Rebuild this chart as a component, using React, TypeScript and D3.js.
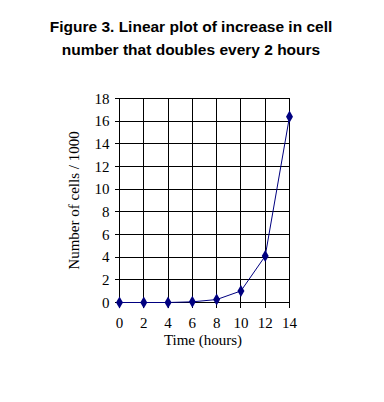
import * as d3 from 'd3';

// data
const hours = [0, 2, 4, 6, 8, 10, 12, 14];
const cellsPer1000 = [0, 0, 0, 0.06, 0.26, 1.02, 4.1, 16.4];
const yTicks = [0, 2, 4, 6, 8, 10, 12, 14, 16, 18];
const titleLines = ['Figure 3. Linear plot of increase in cell', 'number that doubles every 2 hours'];

const W = 384;
const H = 402;
const NAVY = '#000080';

export default function App() {
  const x = d3.scaleLinear().domain([0, 14]).range([119.5, 289.5]);
  const y = d3.scaleLinear().domain([0, 18]).range([302.5, 98.5]);

  const line = d3
    .line<number>()
    .x((_, i) => x(hours[i]))
    .y(d => y(d));

  const diamond = d3.symbol().type(d3.symbolDiamond).size(42)();

  return (
    <svg
      width={W}
      height={H}
      style={{ position: 'absolute', left: 0, top: 0, background: '#fff' }}
    >
      {/* title */}
      <g fontFamily="'Liberation Sans', Arial, sans-serif" fontWeight="bold" fontSize={15.5} textAnchor="middle">
        {titleLines.map((t, i) => (
          <text key={t} x={191} y={32 + i * 23}>
            {t}
          </text>
        ))}
      </g>

      {/* grid */}
      <g stroke="#000" strokeWidth={1} shapeRendering="crispEdges">
        {yTicks.map(v => (
          <line key={'h' + v} x1={x(0) - 5} x2={x(14)} y1={y(v)} y2={y(v)} />
        ))}
        {hours.map(v => (
          <line key={'v' + v} x1={x(v)} x2={x(v)} y1={y(18)} y2={y(0) + 5} />
        ))}
      </g>

      {/* tick labels */}
      <g fontFamily="'Liberation Serif', 'Times New Roman', serif" fontSize={15} fill="#000">
        {yTicks.map(v => (
          <text key={'yl' + v} x={x(0) - 10} y={y(v)} dy="0.35em" textAnchor="end">
            {v}
          </text>
        ))}
        {hours.map(v => (
          <text key={'xl' + v} x={x(v)} y={328} textAnchor="middle">
            {v}
          </text>
        ))}
        <text x={203} y={345} textAnchor="middle">
          Time (hours)
        </text>
        <text transform={`translate(79,${y(9)}) rotate(-90)`} textAnchor="middle">
          Number of cells / 1000
        </text>
      </g>

      {/* series */}
      <path d={line(cellsPer1000) ?? ''} fill="none" stroke={NAVY} strokeWidth={1} />
      {cellsPer1000.map((v, i) => (
        <path key={'m' + i} d={diamond ?? ''} transform={`translate(${x(hours[i])},${y(v)})`} fill={NAVY} />
      ))}
    </svg>
  );
}
